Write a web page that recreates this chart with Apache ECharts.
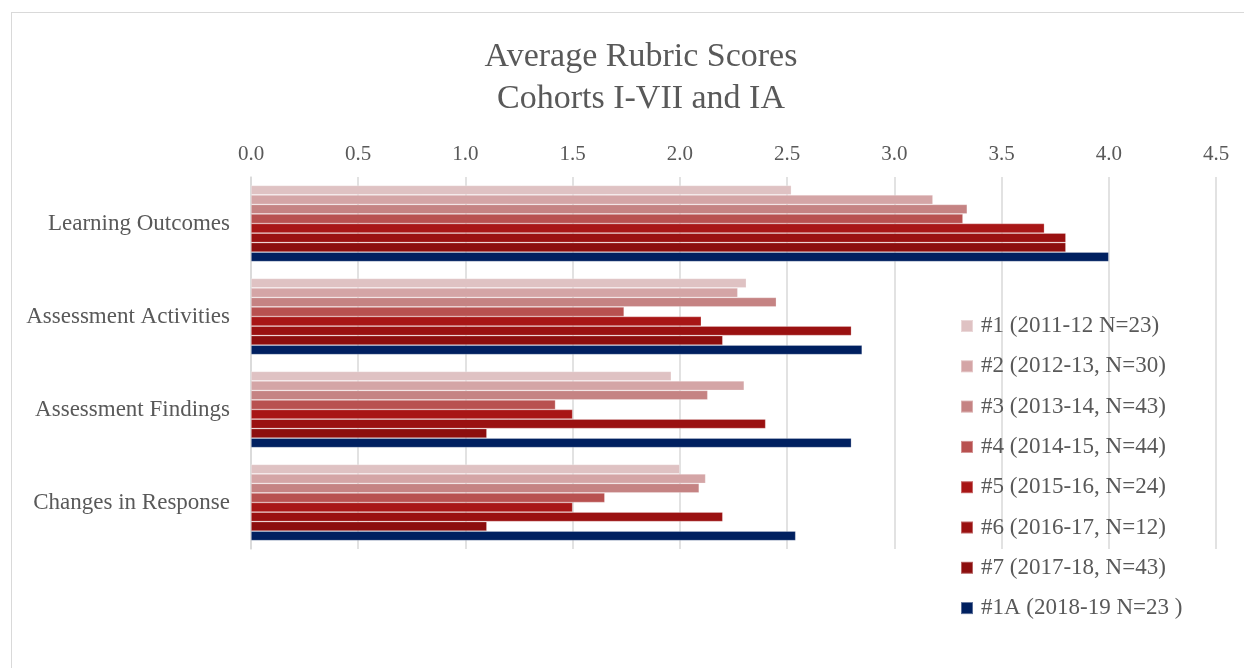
<!DOCTYPE html>
<html>
<head>
<meta charset="utf-8">
<script src="https://cdn.jsdelivr.net/npm/echarts@6/dist/echarts.min.js"></script>
<style>
html,body{margin:0;padding:0;background:#fff;}
#chart{position:absolute;left:0;top:0;width:1244px;height:668px;}
#frame{position:absolute;left:11px;top:12px;width:1300px;height:700px;border-left:1.5px solid #d9d9d9;border-top:1.5px solid #d9d9d9;pointer-events:none;}
</style>
</head>
<body>
<div id="chart"></div>
<div id="frame"></div>
<script>
const categories = ["Learning Outcomes", "Assessment Activities", "Assessment Findings", "Changes in Response"];
const seriesNames = ["#1 (2011-12 N=23)", "#2 (2012-13, N=30)", "#3 (2013-14, N=43)", "#4 (2014-15, N=44)", "#5 (2015-16, N=24)", "#6 (2016-17, N=12)", "#7 (2017-18, N=43)", "#1A (2018-19 N=23 )"];
const s1 = [2.52, 2.31, 1.96, 2.00];
const s2 = [3.18, 2.27, 2.30, 2.12];
const s3 = [3.34, 2.45, 2.13, 2.09];
const s4 = [3.32, 1.74, 1.42, 1.65];
const s5 = [3.70, 2.10, 1.50, 1.50];
const s6 = [3.80, 2.80, 2.40, 2.20];
const s7 = [3.80, 2.20, 1.10, 1.10];
const s1A = [4.00, 2.85, 2.80, 2.54];
const seriesValues = [s1, s2, s3, s4, s5, s6, s7, s1A];
const colors = ["#DFC2C3", "#D4A5A6", "#C58383", "#B85150", "#A81616", "#9A1111", "#8C0E0E", "#002060"];
const tickLabels = ["0.0","0.5","1.0","1.5","2.0","2.5","3.0","3.5","4.0","4.5"];

const font = "'Liberation Serif', 'DejaVu Serif', serif";
const chart = echarts.init(document.getElementById('chart'));
chart.setOption({
  animation: false,
  color: colors,
  textStyle: {fontFamily: font},
  title: {
    text: "Average Rubric Scores\nCohorts I-VII and IA",
    left: 636, textAlign: 'center', top: 31,
    textStyle: {fontFamily: font, fontSize: 34, fontWeight: 'normal', color: '#595959', lineHeight: 42}
  },
  legend: {
    orient: 'vertical', left: 955, top: 309,
    itemWidth: 12, itemHeight: 12, itemGap: 16.3,
    icon: 'rect',
    textStyle: {fontFamily: font, fontSize: 23, color: '#595959', padding: [0,0,0,3], lineHeight: 24},
    data: seriesNames
  },
  grid: {left: 251, right: 28, top: 177, bottom: 119, containLabel: false},
  xAxis: {
    type: 'value', position: 'top', min: 0, max: 4.5, interval: 0.5,
    axisLine: {show: false}, axisTick: {show: false},
    splitLine: {lineStyle: {color: '#d9d9d9', width: 1.5}},
    axisLabel: {fontFamily: font, fontSize: 21, color: '#595959', margin: 12,
      formatter: v => tickLabels[Math.round(v * 2)]}
  },
  yAxis: {
    type: 'category', inverse: true, data: categories,
    axisLine: {show: true, lineStyle: {color: '#d9d9d9', width: 1.5}},
    axisTick: {show: false},
    axisLabel: {fontFamily: font, fontSize: 23, color: '#595959', margin: 21, padding: [3,0,0,0]}
  },
  series: seriesValues.map((vals, i) => ({
    name: seriesNames[i], type: 'bar', data: vals,
    barGap: '0%', barCategoryGap: '18%',
    itemStyle: {color: colors[i], borderColor: 'rgba(255,255,255,0.35)', borderWidth: 0.7}
  }))
});
</script>
</body>
</html>
